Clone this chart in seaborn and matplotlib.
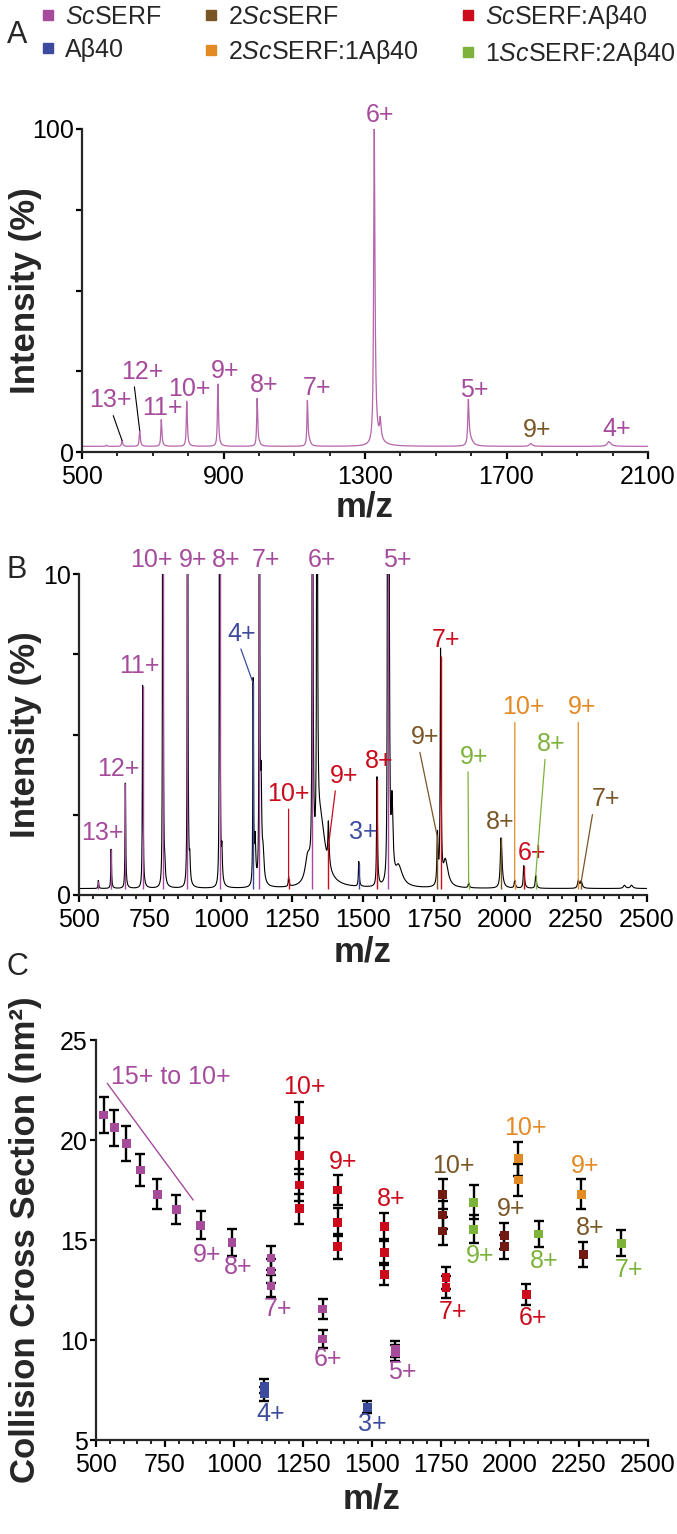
import numpy as np
import pandas as pd
import matplotlib
matplotlib.use('Agg')
import matplotlib.pyplot as plt
from matplotlib.lines import Line2D
from matplotlib.ticker import MultipleLocator
import seaborn as sns

# ---- species / colours ----
species = ['ScSERF', '2ScSERF', 'ScSERF:Ab40', 'Ab40', '2ScSERF:1Ab40', '1ScSERF:2Ab40']
species_text = [r'$\mathit{Sc}$SERF', r'2$\mathit{Sc}$SERF', r'$\mathit{Sc}$SERF:Aβ40',
                'Aβ40', r'2$\mathit{Sc}$SERF:1Aβ40', r'1$\mathit{Sc}$SERF:2Aβ40']
colors = {'ScSERF': '#a64b9c', '2ScSERF': '#7a5626', 'ScSERF:Ab40': '#cc0a1c',
          'Ab40': '#3d4b9e', '2ScSERF:1Ab40': '#e38a25', '1ScSERF:2Ab40': '#7db33a',
          None: 'black'}
dimer_square = '#721a12'   # 2ScSERF squares in panel C are darker

# ---- panel A : ScSERF alone (peak list) ----
a_base = 1.75
a_mz = [569, 613, 663, 724, 796, 884, 995, 1002, 1137, 1143, 1326, 1343, 1335, 1592, 1598, 1768, 1989]
a_int = [2.1, 3.6, 6.7, 10.0, 15.7, 21.0, 16.5, 2.3, 15.7, 2.8, 100, 7.5, 3.5, 15.4, 3.5, 2.6, 3.2]
a_wid = [1.5, 1.5, 1.5, 1.5, 1.5, 1.5, 1.5, 2, 1.5, 3, 1.8, 2, 12, 1.8, 6, 4, 5]

a_labels = ['13+', '12+', '11+', '10+', '9+', '8+', '7+', '6+', '5+', '9+', '4+']
a_label_peak = [613, 663, 724, 796, 884, 995, 1137, 1326, 1592, 1768, 1989]
a_label_species = ['ScSERF'] * 9 + ['2ScSERF', 'ScSERF']

# ---- panel B : ScSERF + Abeta40 mixture ----
b_base = 0.2
b_mz = [568, 613, 663, 724, 795, 802, 882, 890, 995, 1003, 1113, 1120, 1135, 1141, 1148,
        1238, 1305, 1322, 1338, 1350, 1378, 1485, 1549, 1587, 1592, 1602, 1625,
        1762, 1773, 1790, 1872, 1986, 2034, 2066, 2108, 2258, 2268, 2420, 2445]
b_int = [0.45, 1.42, 3.48, 6.52, 30, 0.6, 30, 0.85, 30, 1.1, 6.6, 1.5, 30, 3.0, 1.0,
         0.5, 1.0, 30, 30, 2.2, 1.5, 0.97, 3.6, 30, 8.3, 2.5, 0.8,
         1.8, 7.43, 1.0, 0.35, 1.77, 0.45, 0.9, 0.6, 0.45, 0.4, 0.3, 0.3]
b_wid = [1.2, 1.2, 1.2, 1.2, 0.8, 1.5, 0.8, 1.5, 0.8, 1.5, 1.2, 2, 0.8, 2, 3,
         1.5, 10, 1.0, 1.0, 15, 2, 1.5, 1.5, 1.0, 1.5, 3, 12,
         2, 1.5, 8, 2, 3, 2, 2, 2, 3, 3, 4, 4]
b_species = ['ScSERF'] * 5 + [None, 'ScSERF', None, 'ScSERF', None, 'Ab40', None, 'ScSERF', None, None,
             'ScSERF:Ab40', None, 'ScSERF', None, None, 'ScSERF:Ab40', 'Ab40', 'ScSERF:Ab40',
             'ScSERF', None, None, None,
             '2ScSERF', 'ScSERF:Ab40', None, '1ScSERF:2Ab40', '2ScSERF', '2ScSERF:1Ab40',
             'ScSERF:Ab40', '1ScSERF:2Ab40', '2ScSERF:1Ab40', '2ScSERF', None, None]

b_labels = ['13+', '12+', '11+', '10+', '9+', '8+', '7+', '6+', '5+', '4+', '10+', '9+', '3+',
            '8+', '9+', '7+', '9+', '8+', '10+', '6+', '8+', '9+', '7+']
b_label_peak = [613, 663, 724, 795, 882, 995, 1135, 1322, 1587, 1113, 1238, 1378, 1485,
                1549, 1762, 1773, 1872, 1986, 2034, 2066, 2108, 2258, 2268]
b_label_species = ['ScSERF'] * 9 + ['Ab40', 'ScSERF:Ab40', 'ScSERF:Ab40', 'Ab40',
                   'ScSERF:Ab40', '2ScSERF', 'ScSERF:Ab40', '1ScSERF:2Ab40', '2ScSERF',
                   '2ScSERF:1Ab40', 'ScSERF:Ab40', '1ScSERF:2Ab40', '2ScSERF:1Ab40', '2ScSERF']

# ---- panel C : collision cross sections (nm^2) ----
c_species = (['ScSERF'] * 15 + ['Ab40'] * 3 + ['ScSERF:Ab40'] * 13 + ['2ScSERF'] * 6
             + ['2ScSERF:1Ab40'] * 3 + ['1ScSERF:2Ab40'] * 4)
c_mz = [528, 567, 610, 661, 722, 791, 880, 993, 1134, 1134, 1134, 1322, 1322, 1585, 1585,
        1110, 1110, 1483,
        1236, 1236, 1236, 1236, 1376, 1376, 1376, 1545, 1545, 1545, 1768, 1768, 2059,
        1756, 1756, 1756, 1979, 1979, 2265,
        2030, 2030, 2258,
        1869, 1869, 2104, 2403]
c_ccs = [21.25, 20.62, 19.83, 18.5, 17.28, 16.52, 15.73, 14.87, 14.1, 13.45, 12.7, 11.55, 10.05, 9.55, 9.35,
         7.7, 7.3, 6.63,
         21.0, 19.22, 17.75, 16.57, 17.5, 15.88, 14.67, 15.67, 14.38, 13.28, 13.12, 12.63, 12.27,
         17.28, 16.25, 15.45, 15.22, 14.67, 14.28,
         19.07, 18.0, 17.28,
         16.88, 15.53, 15.3, 14.83]
c_err = [0.92, 0.9, 0.86, 0.8, 0.75, 0.72, 0.7, 0.66, 0.6, 0.6, 0.55, 0.5, 0.45, 0.42, 0.42,
         0.35, 0.35, 0.3,
         0.92, 0.9, 0.8, 0.75, 0.75, 0.7, 0.62, 0.7, 0.65, 0.55, 0.55, 0.55, 0.52,
         0.75, 0.7, 0.68, 0.65, 0.6, 0.62,
         0.85, 0.8, 0.75,
         0.85, 0.7, 0.67, 0.65]

c_labels = ['9+', '8+', '7+', '6+', '5+', '4+', '3+', '10+', '9+', '8+', '7+', '6+',
            '10+', '9+', '8+', '10+', '9+', '9+', '8+', '7+']
c_label_species = ['ScSERF'] * 5 + ['Ab40'] * 2 + ['ScSERF:Ab40'] * 5 + ['2ScSERF'] * 3 \
                  + ['2ScSERF:1Ab40'] * 2 + ['1ScSERF:2Ab40'] * 3

# ---- layout (label positions, not data) ----
a_label_pos = [(579, 16.0), (671, 24.9), (726, 13.6), (803, 19.5), (905, 25.2), (1015, 20.6),
               (1163, 19.8), (1343, 104.3), (1608, 19.3), (1786, 6.7), (2011, 7.2)]
a_leader = {0: 0.55, 1: 0.3}
b_label_pos = [(584, 1.92), (640, 3.92), (712, 7.12), (754, 10.45), (902, 10.45), (1020, 10.45),
               (1157, 10.45), (1355, 10.45), (1619, 10.45), (1074, 8.14), (1238, 3.15),
               (1434, 3.72), (1500, 1.95), (1558, 4.18), (1718, 4.92), (1794, 7.93),
               (1891, 4.31), (1982, 2.26), (2066, 5.85), (2094, 1.32), (2162, 4.7),
               (2273, 5.85), (2355, 2.98)]
b_leader = {9: 0.42, 10: 0.5, 11: 0.2, 14: 0.3, 16: 0.29, 18: 0.29, 20: 0.3, 21: 0.35, 22: 0.05}
c_label_pos = [(901, 14.25), (1014, 13.67), (1159, 11.53), (1342, 9.05), (1608, 8.38),
               (1134, 6.28), (1502, 5.78), (1256, 22.63), (1397, 18.88), (1570, 17.05),
               (1793, 11.42), (2082, 11.08), (1796, 18.72), (2004, 16.55), (2289, 15.62),
               (2054, 20.58), (2273, 18.72), (1890, 14.22), (2124, 13.97), (2430, 13.5)]
range_text_pos = (771, 23.13)
range_bracket = ([541, 852], [22.83, 17.0])


def spectrum(grid, mz, height, width, base):
    y = np.full_like(grid, base, dtype=float)
    for m, h, w in zip(mz, height, width):
        w_eff = np.where(grid < m, w, 1.4 * w)
        y += (h - base) / (1 + ((grid - m) / w_eff) ** 2)
    return y


sns.set_style('ticks')
plt.rcParams['font.family'] = ['Liberation Sans', 'DejaVu Sans']
plt.rcParams['mathtext.fontset'] = 'custom'
plt.rcParams['mathtext.rm'] = 'Liberation Sans'
plt.rcParams['mathtext.it'] = 'Liberation Sans:italic'
plt.rcParams['axes.linewidth'] = 1.6
plt.rcParams['xtick.major.width'] = 1.6
plt.rcParams['ytick.major.width'] = 1.6
plt.rcParams['xtick.minor.width'] = 1.4
plt.rcParams['xtick.major.size'] = 5
plt.rcParams['xtick.minor.size'] = 3
plt.rcParams['ytick.major.size'] = 4
plt.rcParams['xtick.labelsize'] = 18
plt.rcParams['ytick.labelsize'] = 18
plt.rcParams['xtick.major.pad'] = 4.5
plt.rcParams['ytick.major.pad'] = 2

W, H = 677, 1534
fig = plt.figure(figsize=(W / 100, H / 100), dpi=100)


def add_axes(left, right, top, bottom):
    return fig.add_axes([left / W, 1 - bottom / H, (right - left) / W, (bottom - top) / H])


axA = add_axes(82, 648, 129, 452)
axB = add_axes(79, 647, 574, 895)
axC = add_axes(96, 648, 1040, 1440)

lab_font = dict(fontsize=25, fontweight='bold')

# ----- Panel A -----
gridA = np.arange(500, 2100.25, 0.5)
dfA = pd.DataFrame({'mz': gridA, 'intensity': spectrum(gridA, a_mz, a_int, a_wid, a_base)})
sns.lineplot(data=dfA, x='mz', y='intensity', ax=axA, color='#b565a9', lw=0.9,
             estimator=None, sort=False)
for i, (txt, pk, sp) in enumerate(zip(a_labels, a_label_peak, a_label_species)):
    ytop = dfA.intensity[np.abs(dfA.mz - pk).idxmin()]
    if i in a_leader:
        axA.annotate(txt, xy=(pk, ytop), xytext=a_label_pos[i], color=colors[sp], fontsize=18,
                     ha='center', va='center',
                     arrowprops=dict(arrowstyle='-', color='black', lw=0.8,
                                     relpos=(a_leader[i], 0), shrinkA=0, shrinkB=0))
    else:
        axA.text(*a_label_pos[i], txt, color=colors[sp], fontsize=18, ha='center', va='center')
axA.set_xlim(500, 2100)
axA.set_ylim(0, 100)
axA.set_xticks(range(500, 2101, 400))
axA.set_xticks(range(500, 2101, 100), minor=True)
axA.set_yticks([0, 25, 50, 75, 100])
axA.set_yticklabels(['0', '', '', '', '100'])
axA.set_xlabel('m/z', va='center', **lab_font)
axA.set_ylabel('Intensity (%)', va='center', **lab_font)
axA.xaxis.set_label_coords(0.5, (452 - 507) / 323)
axA.yaxis.set_label_coords((26 - 82) / 566, 0.5)

# ----- Panel B -----
gridB = np.arange(500, 2500.25, 0.5)
dfB = pd.DataFrame({'mz': gridB, 'intensity': spectrum(gridB, b_mz, b_int, b_wid, b_base)})
sns.lineplot(data=dfB, x='mz', y='intensity', ax=axB, color='black', lw=0.8,
             estimator=None, sort=False)
for m, h, sp in zip(b_mz, b_int, b_species):
    if sp is not None:
        axB.vlines(m, b_base, h, color=colors[sp], lw=1.0, zorder=3)
for i, (txt, pk, sp) in enumerate(zip(b_labels, b_label_peak, b_label_species)):
    ytop = min(b_int[b_mz.index(pk)], 10)
    if i in b_leader:
        axB.annotate(txt, xy=(pk, ytop), xytext=b_label_pos[i], color=colors[sp], fontsize=18,
                     ha='center', va='center', annotation_clip=False,
                     arrowprops=dict(arrowstyle='-', color=colors[sp], lw=0.9,
                                     relpos=(b_leader[i], 0), shrinkA=0, shrinkB=0))
    else:
        axB.text(*b_label_pos[i], txt, color=colors[sp], fontsize=18, ha='center', va='center')
axB.set_xlim(500, 2500)
axB.set_ylim(0, 10)
axB.xaxis.set_major_locator(MultipleLocator(250))
axB.xaxis.set_minor_locator(MultipleLocator(50))
axB.set_yticks([0, 2.5, 5, 7.5, 10])
axB.set_yticklabels(['0', '', '', '', '10'])
axB.set_xlabel('m/z', va='center', **lab_font)
axB.set_ylabel('Intensity (%)', va='center', **lab_font)
axB.xaxis.set_label_coords(0.5, (895 - 952) / 321)
axB.yaxis.set_label_coords((26 - 79) / 568, 0.5)

# ----- Panel C -----
dfC = pd.DataFrame({'mz': c_mz, 'ccs': c_ccs, 'err': c_err, 'species': c_species})
axC.errorbar(dfC.mz, dfC.ccs, yerr=dfC.err, fmt='none', ecolor='black', elinewidth=1.7,
             capsize=3.5, capthick=1.7, zorder=2)
palC = {sp: colors[sp] for sp in species}
palC['2ScSERF'] = dimer_square
sns.scatterplot(data=dfC, x='mz', y='ccs', hue='species', palette=palC, marker='s', s=40,
                edgecolor='none', legend=False, ax=axC, zorder=3)
for txt, sp, pos in zip(c_labels, c_label_species, c_label_pos):
    axC.text(*pos, txt, color=colors[sp], fontsize=18, ha='center', va='center')
axC.text(*range_text_pos, '15+ to 10+', color=colors['ScSERF'], fontsize=18,
         ha='center', va='center')
axC.plot(*range_bracket, color=colors['ScSERF'], lw=1.0)
axC.set_xlim(500, 2500)
axC.set_ylim(5, 25)
axC.xaxis.set_major_locator(MultipleLocator(250))
axC.xaxis.set_minor_locator(MultipleLocator(50))
axC.yaxis.set_major_locator(MultipleLocator(5))
axC.set_xlabel('m/z', va='center', **lab_font)
axC.set_ylabel('Collision Cross Section (nm²)', va='center', **lab_font)
axC.xaxis.set_label_coords(0.5, (1440 - 1499) / 400)
axC.yaxis.set_label_coords((26 - 96) / 552, 0.5)

for ax in (axA, axB, axC):
    sns.despine(ax=ax)
    ax.tick_params(direction='out', colors='black')

# ----- legend and panel letters -----
order = [0, 3, 1, 4, 2, 5]
handles = [Line2D([], [], marker='s', ls='none', color=colors[species[i]], markersize=6.5)
           for i in order]
fig.legend(handles, [species_text[i] for i in order], ncol=3, loc='upper left',
           bbox_to_anchor=(39 / W, 1 - 3 / H), frameon=False, fontsize=18,
           handlelength=0.7, handletextpad=0.35, columnspacing=1.6, labelspacing=0.35,
           borderpad=0, borderaxespad=0)
for letter, (px, py) in zip('ABC', [(17, 35), (17, 570), (17, 967)]):
    fig.text(px / W, 1 - py / H, letter, fontsize=22, ha='center', va='center')

fig.savefig('out.png', dpi=100)
